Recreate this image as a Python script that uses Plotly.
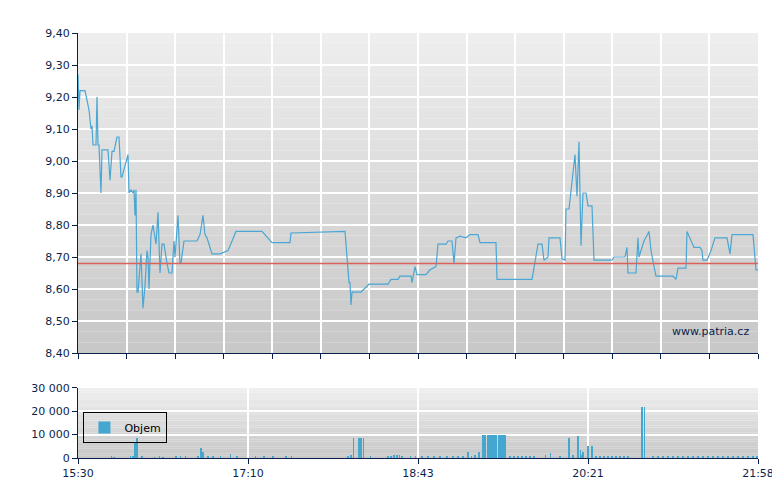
import plotly.graph_objects as go

# price series: pixel-read positions converted to minutes since 15:30
px_x = [70,71,72,77,81,83,84,85,88,89,90,91,93,94,100,102,104,106,109,111,113,114,120,121,123,125,126,127,128,
        129,130,133,135,137,139,140,141,143,145,148,150,152,154,156,159,161,164,166,167,170,172,173,176,189,192,195,197,199,
        204,212,220,228,254,264,282,283,337,339,341,342,343,344,353,361,380,383,390,392,403,404,407,409,418,422,428,430,438,
        440,444,446,448,452,458,462,470,472,488,489,524,530,534,536,540,541,552,554,557,558,561,567,569,571,573,575,578,580,
        584,586,604,606,617,619,620,628,630,631,636,641,643,646,648,665,668,670,678,679,682,686,689,692,694,695,699,703,707,
        719,722,724,745,748,750]
price = [9.27,9.16,9.22,9.22,9.16,9.10,9.11,9.05,9.05,9.20,9.05,9.05,8.90,9.035,9.035,8.94,9.03,9.03,9.075,9.075,8.95,8.95,9.02,8.90,8.91,8.90,8.91,8.83,8.91,
         8.59,8.59,8.71,8.54,8.61,8.72,8.70,8.60,8.77,8.80,8.74,8.84,8.65,8.74,8.74,8.68,8.65,8.65,8.75,8.70,8.83,8.68,8.68,8.75,8.75,8.77,8.83,8.77,8.76,
         8.71,8.71,8.72,8.78,8.78,8.745,8.745,8.775,8.78,8.70,8.62,8.62,8.55,8.59,8.59,8.615,8.615,8.63,8.63,8.64,8.64,8.62,8.67,8.645,8.645,8.66,8.67,8.74,8.74,
         8.75,8.75,8.68,8.76,8.765,8.76,8.77,8.77,8.745,8.745,8.63,8.63,8.74,8.74,8.69,8.70,8.76,8.76,8.695,8.69,8.85,8.85,9.02,8.89,9.06,8.735,8.90,8.90,8.86,
         8.86,8.69,8.69,8.70,8.70,8.73,8.65,8.65,8.76,8.70,8.75,8.78,8.72,8.67,8.64,8.64,8.63,8.665,8.665,8.78,8.76,8.73,8.73,8.73,8.72,8.69,8.69,8.72,8.76,
         8.76,8.71,8.77,8.77,8.66,8.66]
ref_price = 8.68

vol_px = [103.5,106,122.5,125,127,129,134,146.5,151.5,155,168,172.5,177.5,190,193,195,200,205,212.5,222.5,229,247.5,256,265,278,283.5,
          340,343,345.5,351,353,355.5,362.5,380,383,386,389,391.5,394,402.5,407.5,414,420,426,432,439,445,450,455,460,463.5,
          467,471,475,477,480,482,484,486,488,491,493,495,497,502,506,510,514,518,522,526,537.5,542.5,552,561,565,570,572.5,574,575,
          580,584,588,592,596,600,604,608,612,616,620,634,636.5,645,650,655,660,665,670,675,680,685,690,695,700,705,710,715,720,725,730,735,740,745,749]
vol = [1000,500,1000,1000,6500,8500,800,500,800,500,800,800,800,800,4300,2500,800,800,800,1600,800,800,800,800,800,800,
       800,1500,8800,8800,8800,8800,800,800,800,1500,1500,1500,800,800,800,800,800,800,800,800,800,800,800,2500,800,
       1500,2500,10000,10000,10000,10000,10000,10000,10000,10000,10000,10000,10000,800,800,800,800,800,800,800,1500,2000,800,8800,1500,9300,3500,1500,2500,
       5000,5000,800,800,800,800,800,800,800,800,800,22000,22000,800,800,800,800,800,800,800,800,800,800,800,800,800,800,800,800,800,800,800,800,800,800,2000]

SPAN = 388.0
def to_min(p):
    return [(v - 70) * SPAN / 680 for v in p]

t_price = to_min(px_x)
t_vol = to_min(vol_px)
xlabels = ["15:30", "17:10", "18:43", "20:21", "21:58"]

fig = go.Figure()
fig.add_trace(go.Scatter(x=t_price, y=price, mode="lines", line=dict(color="#4aa6d2", width=1.2),
                         xaxis="x", yaxis="y", showlegend=False))
fig.add_trace(go.Scatter(x=[0, SPAN], y=[ref_price, ref_price], mode="lines",
                         line=dict(color="#d9625a", width=1.5), xaxis="x", yaxis="y", showlegend=False))
fig.add_trace(go.Bar(x=t_vol, y=vol, width=0.4, marker=dict(color="#45a6d0", line=dict(width=0)),
                     name="Objem", xaxis="x2", yaxis="y2", showlegend=True))

shapes = []
N = 30
for ax, yd in (("y", "y domain"), ("y2", "y2 domain")):
    xr = "x domain" if ax == "y" else "x2 domain"
    for i in range(N):
        c = int(238 - (238 - 200) * i / (N - 1))
        shapes.append(dict(type="rect", xref=xr, yref=yd, x0=0, x1=1, y0=1 - (i + 1) / N, y1=1 - i / N,
                           fillcolor=f"rgb({c},{c},{c})", line=dict(width=0), layer="below"))

axcol = "#0b1f4d"
common = dict(ticks="outside", ticklen=5, tickcolor=axcol, showgrid=True, gridcolor="white", gridwidth=1.5,
              zeroline=False, showline=True, linecolor=axcol, linewidth=1, automargin=False)
fig.update_layout(
    width=780, height=490, margin=dict(l=70, r=30, t=25, b=40),
    paper_bgcolor="white", plot_bgcolor="rgba(0,0,0,0)", separators=", ",
    font=dict(family="DejaVu Sans", size=11, color=axcol),
    shapes=shapes, bargap=0,
    xaxis=dict(domain=[0, 1], anchor="y", range=[0, SPAN], tickvals=[SPAN * i / 14 for i in range(15)],
               showticklabels=False, **common),
    yaxis=dict(domain=[0.247, 1], anchor="x", range=[8.40, 9.40], dtick=0.1, tickformat=".2f", **common),
    xaxis2=dict(domain=[0, 1], anchor="y2", range=[0, SPAN], tickvals=[SPAN * i / 4 for i in range(5)],
                ticktext=xlabels, **common),
    yaxis2=dict(domain=[0, 0.165], anchor="x2", range=[0, 30000], tickvals=[0, 10000, 20000, 30000],
                tickformat=",d", **common),
    legend=dict(x=0.008, y=0.108, xanchor="left", yanchor="top", bgcolor="rgba(0,0,0,0)",
                bordercolor="black", borderwidth=1, font=dict(size=11, color="black"),
                itemwidth=30, tracegroupgap=0),
    annotations=[dict(text="www.patria.cz", xref="x domain", yref="y domain", x=0.99, y=0.04,
                      xanchor="right", yanchor="bottom", showarrow=False,
                      font=dict(size=11, color="#0b1f4d"))],
)
fig.write_html("out.html")
